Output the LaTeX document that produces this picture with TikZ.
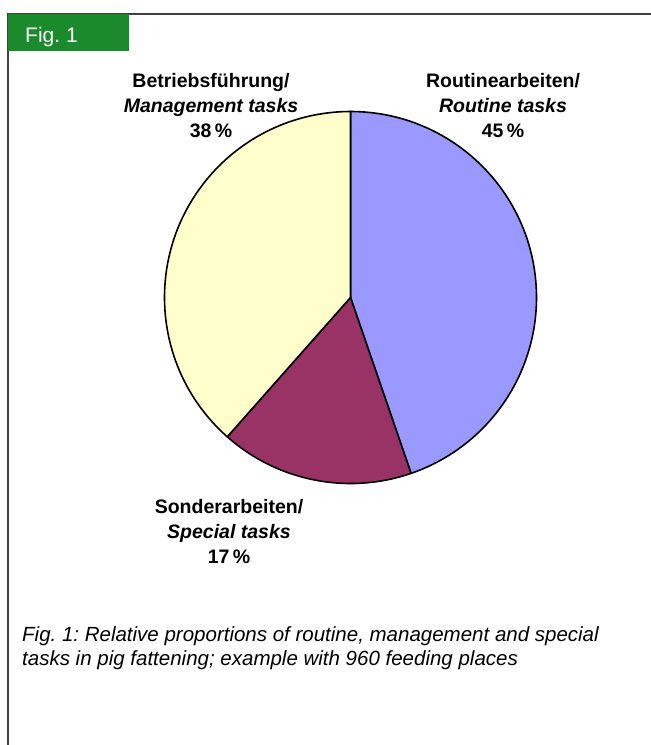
\documentclass[tikz,border=0pt]{standalone}
\usepackage{fontspec}
\setmainfont{Liberation Sans}
\frenchspacing
\definecolor{figgreen}{HTML}{1A8A2C}
\definecolor{routinecol}{HTML}{9999FF}
\definecolor{specialcol}{HTML}{993366}
\definecolor{managecol}{HTML}{FFFFCC}
\definecolor{framecol}{HTML}{404040}
\tikzset{
  slice/.style={draw=black, line width=1.6pt, line join=round},
  pielabel/.style={align=center, anchor=base, font=\fontsize{19.5}{25}\selectfont\bfseries, inner sep=0pt},
  captext/.style={align=left, anchor=base west, font=\fontsize{20.5}{24}\selectfont\itshape, inner sep=0pt},
}
\begin{document}
\begin{tikzpicture}[x=1pt,y=-1pt]
\useasboundingbox (0,0) rectangle (651,745);
\fill[white] (0,0) rectangle (651,745);
% frame
\draw[framecol, line width=1.5pt] (8,745) -- (8,14) -- (651,14);
\fill[figgreen] (8,14) rectangle (129,51);
\node[anchor=base west, text=white, inner sep=0pt, font=\fontsize{21}{24}\selectfont] (hdr) at (25,42) {Fig. 1};
% pie
\coordinate (c) at (350.5,297.5);
\filldraw[slice, fill=routinecol] (c) -- ++(90:186pt) arc[start angle=90, end angle=-71, radius=186pt] -- cycle;
\filldraw[slice, fill=specialcol] (c) -- ++(-71:186pt) arc[start angle=-71, end angle=-131.5, radius=186pt] -- cycle;
\filldraw[slice, fill=managecol] (c) -- ++(-131.5:186pt) arc[start angle=-131.5, end angle=-270, radius=186pt] -- cycle;
% labels (anchor = baseline of last line)
\node[pielabel] (lman) at (211,137) {Betriebsführung/\\ \textit{Management tasks}\\ 38\,\%};
\node[pielabel] (lrou) at (503,137) {Routinearbeiten/\\ \textit{Routine tasks}\\ 45\,\%};
\node[pielabel] (lspe) at (229,563) {Sonderarbeiten/\\ \textit{Special tasks}\\ 17\,\%};
% caption
\node[captext] (cap) at (22,665) {Fig. 1: Relative proportions of routine, management and special\\ tasks in pig fattening; example with 960 feeding places};
\end{tikzpicture}
\end{document}
